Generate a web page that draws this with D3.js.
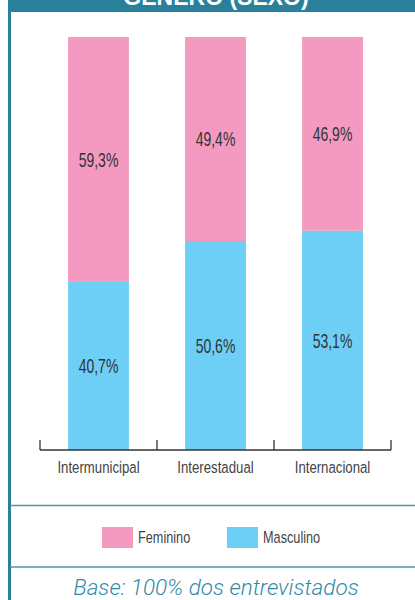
<!DOCTYPE html>
<html>
<head>
<meta charset="utf-8">
<script src="https://cdn.jsdelivr.net/npm/d3@7/dist/d3.min.js"></script>
<style>
  html, body { margin: 0; padding: 0; background: #fff; }
  svg { display: block; }
</style>
</head>
<body>
<svg id="chart" width="415" height="600"></svg>
<script>
// Data
const categories = ["Intermunicipal", "Interestadual", "Internacional"];
const masculino = [40.7, 50.6, 53.1];
const feminino = [59.3, 49.4, 46.9];
const seriesNames = ["Feminino", "Masculino"];
const title = "GÊNERO (SEXO)";
const footnote = "Base: 100% dos entrevistados";

const W = 415, H = 600;
const teal = "#2a7f9b";
const lineTeal = "#4f93ab";
const colors = { Feminino: "#f49ac1", Masculino: "#6dcff6" };
const textColor = "#333333";
const sans = "'Liberation Sans', Arial, sans-serif";

const svg = d3.select("#chart");

// Condensed label: text in a group squeezed horizontally around its anchor point
function narrowText(parent, x, y, str, opts) {
  const grp = parent.append("g").attr("transform", `translate(${x},${y}) scale(${opts.squeeze},1)`);
  return grp.append("text")
    .attr("x", 0).attr("y", 0)
    .attr("text-anchor", opts.anchor || "start")
    .attr("dy", opts.dy || null)
    .attr("fill", opts.fill || textColor)
    .attr("font-family", sans)
    .attr("font-size", opts.size)
    .text(str);
}

// Frame: header band and left rule
svg.append("rect").attr("x", 8).attr("y", 0).attr("width", W - 8).attr("height", 12).attr("fill", teal);
svg.append("text")
  .attr("x", 216).attr("y", 4.5)
  .attr("text-anchor", "middle")
  .attr("fill", "#fff")
  .attr("font-family", sans)
  .attr("font-weight", "bold")
  .attr("font-size", 23)
  .text(title);
svg.append("rect").attr("x", 8).attr("y", 0).attr("width", 3).attr("height", H).attr("fill", teal);

// Separator rules
[505.5, 567].forEach(y => {
  svg.append("line").attr("x1", 10).attr("x2", W).attr("y1", y).attr("y2", y)
    .attr("stroke", lineTeal).attr("stroke-width", 1.5);
});

// Scales
const x = d3.scaleBand().domain(categories).range([40, 391]).padding(0);
const y = d3.scaleLinear().domain([0, 100]).range([450, 37]);
const barW = x.bandwidth() * 0.52;

// Stacked data
const rows = categories.map((c, i) => ({ cat: c, Masculino: masculino[i], Feminino: feminino[i] }));
const stack = d3.stack().keys(["Masculino", "Feminino"]);
const layers = stack(rows);

const g = svg.append("g");
layers.forEach(layer => {
  const key = layer.key;
  g.selectAll(null).data(layer).enter().append("rect")
    .attr("x", d => x(d.data.cat) + (x.bandwidth() - barW) / 2)
    .attr("y", d => y(d[1]))
    .attr("width", barW)
    .attr("height", d => y(d[0]) - y(d[1]))
    .attr("fill", colors[key]);
  layer.forEach(d => {
    narrowText(g, x(d.data.cat) + x.bandwidth() / 2, (y(d[0]) + y(d[1])) / 2,
      d3.format(".1f")(d.data[key]).replace(".", ",") + "%",
      { anchor: "middle", dy: "0.36em", size: 20, squeeze: 0.7, fill: textColor });
  });
});

// Category axis with ticks at band edges
const axisG = svg.append("g").attr("stroke", "#333").attr("stroke-width", 1.3);
axisG.append("line").attr("x1", x.range()[0]).attr("x2", x.range()[1])
  .attr("y1", y(0)).attr("y2", y(0));
const edges = categories.map(c => x(c)).concat([x.range()[1]]);
axisG.selectAll(null).data(edges).enter().append("line")
  .attr("x1", d => d).attr("x2", d => d)
  .attr("y1", y(0)).attr("y2", y(0) - 10);

categories.forEach(c => {
  narrowText(svg, x(c) + x.bandwidth() / 2, 473, c,
    { anchor: "middle", size: 16.3, squeeze: 0.81, fill: "#444" });
});

// Legend
const legendX = [102, 227];
seriesNames.forEach((name, i) => {
  svg.append("rect").attr("x", legendX[i]).attr("y", 527).attr("width", 31).attr("height", 21)
    .attr("fill", colors[name]);
  narrowText(svg, legendX[i] + 36, 542.5, name, { size: 16.5, squeeze: 0.77, fill: "#444" });
});

// Footnote
svg.append("text")
  .attr("x", 216).attr("y", 595)
  .attr("text-anchor", "middle")
  .attr("fill", "#3389a8")
  .attr("font-family", "Roboto, 'Open Sans', sans-serif")
  .attr("font-weight", 300)
  .attr("font-style", "italic")
  .attr("font-size", 22.5)
  .text(footnote);
</script>
</body>
</html>
